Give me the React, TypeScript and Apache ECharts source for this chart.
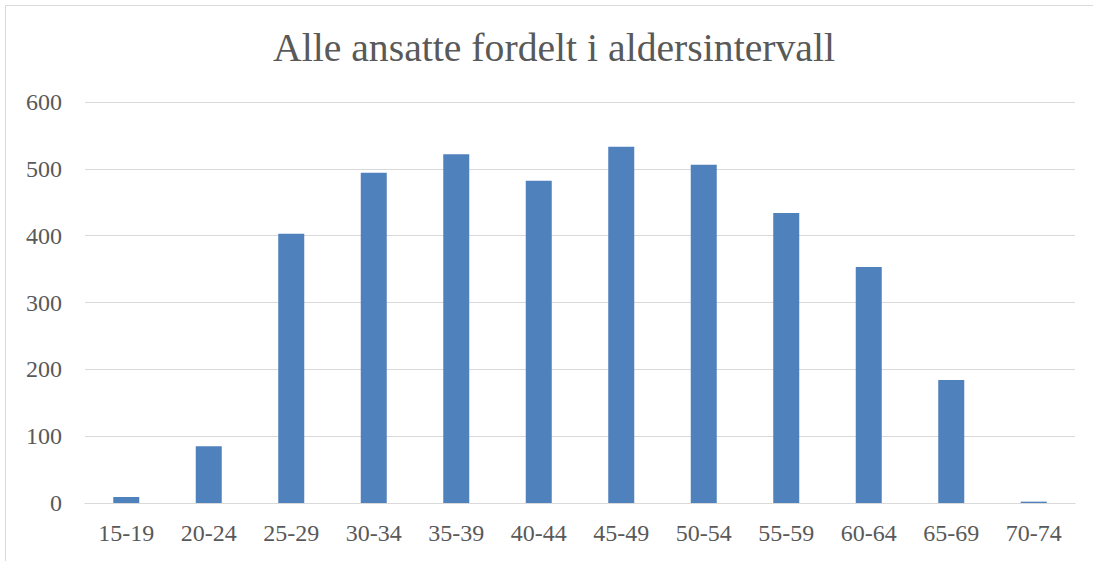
import React, { useEffect, useRef } from "react";
import * as echarts from "echarts";

const categories = ["15-19", "20-24", "25-29", "30-34", "35-39", "40-44", "45-49", "50-54", "55-59", "60-64", "65-69", "70-74"];
const values = [9, 85, 403, 494, 522, 482, 533, 506, 434, 353, 184, 2];
const titleText = "Alle ansatte fordelt i aldersintervall";

const FONT = "'Liberation Serif', 'DejaVu Serif', serif";

export default function App() {
  const ref = useRef<HTMLDivElement>(null);
  useEffect(() => {
    if (!ref.current) return;
    const chart = echarts.init(ref.current, null, { renderer: "svg" });
    chart.setOption({
      animation: false,
      backgroundColor: "#ffffff",
      title: {
        text: titleText,
        left: 268,
        top: 23,
        textStyle: { fontFamily: FONT, fontSize: 39.7, fontWeight: "normal", color: "#595959" },
      },
      graphic: [
        {
          type: "rect",
          shape: { x: 5.5, y: 5.5, width: 1200, height: 700 },
          style: { fill: "none", stroke: "#d9d9d9", lineWidth: 1 },
          silent: true,
        },
      ],
      grid: { left: 85, right: 18, top: 102, bottom: 58, containLabel: false },
      xAxis: {
        type: "category",
        data: categories,
        axisLine: { show: true, lineStyle: { color: "#d9d9d9", width: 1 } },
        axisTick: { show: false },
        axisLabel: { fontFamily: FONT, fontSize: 24, color: "#595959", margin: 18 },
      },
      yAxis: {
        type: "value",
        min: 0,
        max: 600,
        interval: 100,
        axisLine: { show: false },
        axisTick: { show: false },
        splitLine: { lineStyle: { color: "#d9d9d9", width: 1 } },
        axisLabel: { fontFamily: FONT, fontSize: 24, color: "#595959", margin: 23 },
      },
      series: [
        {
          type: "bar",
          data: values,
          barWidth: 26,
          itemStyle: { color: "#4f81bd" },
        },
      ],
    });
    return () => chart.dispose();
  }, []);
  return <div ref={ref} style={{ position: "absolute", left: 0, top: 0, width: 1093, height: 561 }} />;
}
